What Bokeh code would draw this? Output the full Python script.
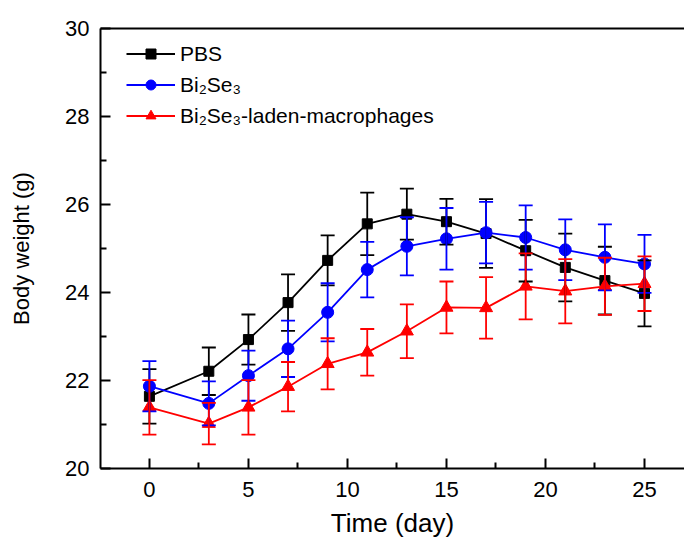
from bokeh.plotting import figure
from bokeh.models import (ColumnDataSource, Whisker, TeeHead, FixedTicker, LinearAxis,
                          Legend, LegendItem, Range1d)
from bokeh.embed import file_html
from bokeh.resources import INLINE

days = [0, 3, 5, 7, 9, 11, 13, 15, 17, 19, 21, 23, 25]
pbs = [21.64, 22.21, 22.93, 23.77, 24.73, 25.56, 25.78, 25.61, 25.34, 24.95, 24.57, 24.27, 23.98]
pbs_err = [0.62, 0.54, 0.57, 0.64, 0.57, 0.71, 0.58, 0.52, 0.78, 0.70, 0.77, 0.77, 0.75]
bise = [21.87, 21.48, 22.11, 22.72, 23.55, 24.52, 25.05, 25.22, 25.36, 25.25, 24.97, 24.80, 24.65]
bise_err = [0.57, 0.50, 0.57, 0.64, 0.66, 0.63, 0.66, 0.70, 0.70, 0.73, 0.69, 0.75, 0.66]
mac = [21.39, 21.02, 21.39, 21.86, 22.38, 22.64, 23.12, 23.66, 23.65, 24.14, 24.03, 24.14, 24.20]
mac_err = [0.62, 0.47, 0.62, 0.56, 0.58, 0.53, 0.61, 0.59, 0.70, 0.75, 0.73, 0.65, 0.62]

labels = ["PBS", "Bi\u2082Se\u2083", "Bi\u2082Se\u2083-laden-macrophages"]
x_ticks = [0, 5, 10, 15, 20, 25]
x_minor = [2.5, 7.5, 12.5, 17.5, 22.5]
y_ticks = [20, 22, 24, 26, 28, 30]
y_minor = [21, 23, 25, 27, 29]

FONT = "Liberation Sans"

p = figure(width=684, height=545, x_range=Range1d(-2.47, 27.02), y_range=Range1d(20, 30),
           output_backend="svg", toolbar_location=None,
           min_border_left=100, min_border_right=0, min_border_top=28, min_border_bottom=77)
p.outline_line_color = None
p.grid.visible = False
p.background_fill_color = "white"

p.xaxis.ticker = FixedTicker(ticks=x_ticks, minor_ticks=x_minor)
p.yaxis.ticker = FixedTicker(ticks=y_ticks, minor_ticks=y_minor)
for ax in (p.xaxis[0], p.yaxis[0]):
    ax.axis_line_width = 2
    ax.axis_line_color = "black"
    ax.major_tick_in = 10
    ax.major_tick_out = 0
    ax.minor_tick_in = 6
    ax.minor_tick_out = 0
    ax.major_tick_line_width = 2
    ax.minor_tick_line_width = 2
    ax.major_tick_line_color = "black"
    ax.minor_tick_line_color = "black"
    ax.major_label_text_font = FONT
    ax.major_label_text_font_size = "22px"
    ax.major_label_text_color = "black"
    ax.axis_label_text_font = FONT
    ax.axis_label_text_font_style = "normal"
    ax.axis_label_text_color = "black"

p.xaxis.axis_label = "Time (day)"
p.xaxis.axis_label_text_font_size = "26px"
p.xaxis.major_label_standoff = 13
p.xaxis.axis_label_standoff = 8
p.yaxis.axis_label = "Body weight (g)"
p.yaxis.axis_label_text_font_size = "22px"
p.yaxis.major_label_standoff = 11
p.yaxis.axis_label_standoff = 28

top = LinearAxis(ticker=FixedTicker(ticks=[]), major_label_text_font_size="0px",
                 axis_line_width=2, axis_line_color="black",
                 major_tick_line_color=None, minor_tick_line_color=None)
p.add_layout(top, "above")

series = [
    (pbs, pbs_err, "black", "square", 10),
    (bise, bise_err, "#0000FF", "circle", 12),
    (mac, mac_err, "#FF0000", "triangle", 13),
]

items = []
for (vals, errs, color, marker, size), lab in zip(series, labels):
    src = ColumnDataSource(dict(x=days, y=vals,
                                upper=[v + e for v, e in zip(vals, errs)],
                                lower=[v - e for v, e in zip(vals, errs)]))
    w = Whisker(source=src, base="x", upper="upper", lower="lower", dimension="height",
                line_color=color, line_width=1.8, level="glyph",
                upper_head=TeeHead(size=14, line_color=color, line_width=1.8),
                lower_head=TeeHead(size=14, line_color=color, line_width=1.8))
    p.add_layout(w)
    ln = p.line("x", "y", source=src, line_color=color, line_width=1.8)
    sc = p.scatter("x", "y", source=src, marker=marker, size=size,
                   fill_color=color, line_color=color)
    items.append(LegendItem(label=lab, renderers=[ln, sc]))

legend = Legend(items=items, location=(26, 340), border_line_color=None,
                background_fill_alpha=0, label_text_font=FONT, label_text_font_size="21px",
                label_text_color="black",
                glyph_width=49, glyph_height=25, label_height=25, spacing=6,
                padding=0, margin=0, label_standoff=5)
p.add_layout(legend)

open("out.html", "w").write(file_html(p, INLINE))
